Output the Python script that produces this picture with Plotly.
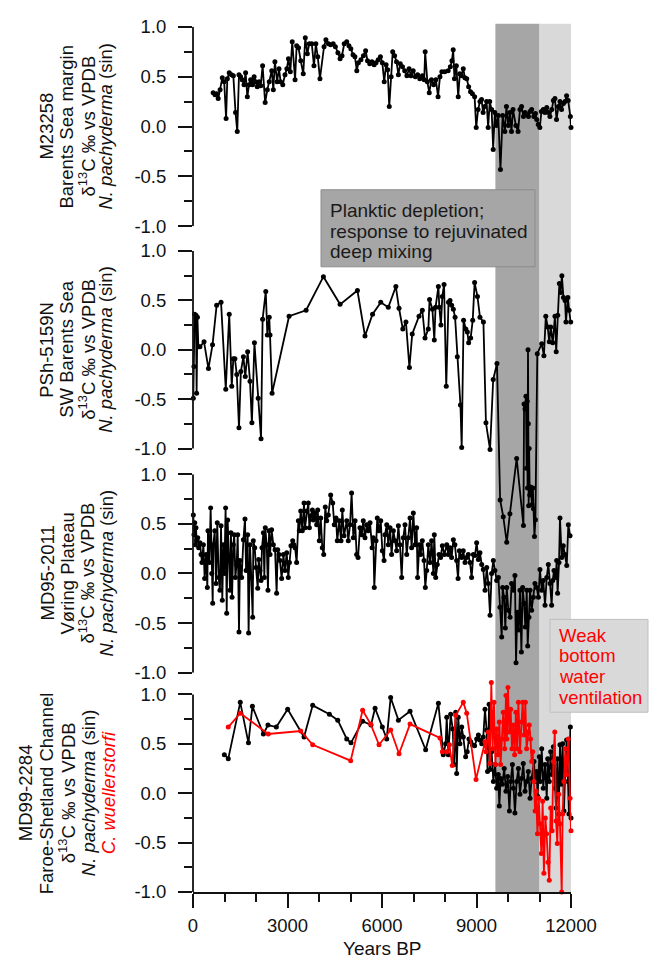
import plotly.graph_objects as go

# ---------------- data ----------------
m23258_year = [640, 700, 750, 800, 860, 930, 990, 1050, 1090, 1150,
               1220, 1280, 1350, 1405, 1460, 1510, 1560, 1620, 1670, 1725,
               1780, 1830, 1890, 1940, 1990, 2040, 2100, 2150, 2210, 2290,
               2360, 2420, 2500, 2550, 2600, 2670, 2730, 2780, 2850, 2920,
               2980, 3030, 3090, 3150, 3240, 3290, 3350, 3420, 3500, 3565,
               3630, 3690, 3770, 3840, 3900, 3960, 4030, 4160, 4220, 4300,
               4370, 4450, 4520, 4600, 4670, 4730, 4800, 4880, 4950, 5010,
               5080, 5140, 5200, 5250, 5330, 5410, 5480, 5540, 5610, 5680,
               5750, 5810, 5880, 5950, 6010, 6070, 6130, 6180, 6230, 6290,
               6340, 6400, 6460, 6520, 6580, 6650, 6720, 6790, 6860, 6920,
               6990, 7060, 7130, 7200, 7280, 7340, 7370, 7440, 7500, 7570,
               7640, 7710, 7780, 7840, 7900, 7990, 8100, 8170, 8220, 8260,
               8300, 8360, 8420, 8470, 8520, 8580, 8630, 8690, 8750, 8810,
               8870, 8940, 8990, 9050, 9110, 9160, 9210, 9260, 9320, 9370,
               9420, 9480, 9530, 9580, 9630, 9690, 9760, 9830, 9900, 9950,
               10010, 10060, 10110, 10160, 10250, 10320, 10380, 10430, 10490, 10540,
               10600, 10650, 10700, 10750, 10820, 10870, 10910, 10960, 11010, 11060,
               11120, 11170, 11230, 11280, 11330, 11390, 11440, 11490, 11540, 11600,
               11650, 11700, 11760, 11810, 11860, 11910, 11980, 12000]
m23258_d13c = [0.34, 0.32, 0.33, 0.28, 0.37, 0.49, 0.45, 0.08, 0.48, 0.54,
               0.52, 0.51, 0.14, -0.05, 0.52, 0.50, 0.47, 0.42, 0.54, 0.30,
               0.42, 0.47, 0.42, 0.50, 0.45, 0.40, 0.45, 0.41, 0.61, 0.24,
               0.37, 0.45, 0.56, 0.37, 0.65, 0.45, 0.58, 0.45, 0.42, 0.52,
               0.58, 0.68, 0.55, 0.85, 0.47, 0.81, 0.79, 0.66, 0.53, 0.89,
               0.73, 0.83, 0.83, 0.61, 0.83, 0.70, 0.48, 0.80, 0.87, 0.83,
               0.82, 0.83, 0.80, 0.74, 0.68, 0.71, 0.83, 0.85, 0.81, 0.78,
               0.72, 0.70, 0.56, 0.64, 0.67, 0.71, 0.76, 0.66, 0.63, 0.65,
               0.62, 0.64, 0.67, 0.70, 0.64, 0.45, 0.62, 0.57, 0.20, 0.50,
               0.75, 0.71, 0.65, 0.52, 0.63, 0.60, 0.56, 0.51, 0.58, 0.51,
               0.56, 0.50, 0.52, 0.48, 0.51, 0.47, 0.75, 0.45, 0.34, 0.47,
               0.42, 0.47, 0.30, 0.50, 0.55, 0.55, 0.56, 0.60, 0.66, 0.77,
               0.48, 0.61, 0.30, 0.53, 0.51, 0.58, 0.49, 0.48, 0.40, 0.35,
               0.33, 0.30, -0.01, 0.17, 0.25, 0.27, 0.14, 0.20, 0.25, -0.01,
               0.25, 0.17, -0.23, 0.14, 0.01, 0.11, -0.43, 0.11, -0.05, 0.20,
               0.01, 0.14, -0.05, 0.17, 0.01, -0.05, 0.17, 0.20, 0.10, 0.14,
               0.12, 0.10, 0.15, 0.17, 0.10, 0.13, 0.07, 0.02, -0.01, 0.15,
               0.17, 0.14, 0.19, 0.14, 0.10, 0.17, 0.26, 0.28, 0.07, 0.20,
               0.25, 0.17, 0.23, 0.25, 0.31, 0.26, 0.10, -0.01]

psh_year = [10, 30, 50, 75, 95, 115, 140, 170, 220, 350,
            490, 620, 750, 890, 1040, 1150, 1230, 1280, 1330, 1390,
            1460, 1520, 1600, 1660, 1735, 1810, 1870, 1950, 2070, 2160,
            2210, 2310, 2360, 2420, 2445, 2510, 3050, 3590, 4140, 4670,
            5220, 5460, 5700, 5960, 6200, 6440, 6540, 6660, 6760, 6870,
            6960, 7175, 7280, 7365, 7470, 7510, 7600, 7660, 7700, 7790,
            7820, 7870, 7915, 7970, 8040, 8110, 8160, 8210, 8265, 8320,
            8390, 8490, 8530, 8590, 8660, 8710, 8750, 8815, 8880, 8940,
            9030, 9110, 9220, 9300, 9430, 9530, 9650, 9750, 9850, 9960,
            10060, 10275, 10490, 10510, 10540, 10570, 10590, 10610, 10620, 10635,
            10645, 10656, 10670, 10690, 10720, 10760, 10790, 10810, 10840, 10870,
            10930, 11070, 11140, 11200, 11260, 11310, 11355, 11420, 11490, 11530,
            11580, 11630, 11670, 11710, 11760, 11810, 11840, 11900, 11940, 11990]
psh_d13c = [-0.49, -0.17, 0.36, 0.20, 0.35, -0.44, 0.33, 0.03, 0.03, 0.08,
            -0.19, 0.05, 0.45, 0.48, -0.40, 0.36, -0.37, -0.09, -0.09, -0.25,
            -0.79, -0.22, -0.07, -0.27, -0.02, -0.32, -0.74, 0.07, -0.49, -0.90,
            0.31, 0.59, 0.15, 0.33, 0.15, -0.44, 0.34, 0.40, 0.74, 0.46,
            0.60, 0.14, 0.36, 0.48, 0.43, 0.64, 0.42, 0.21, 0.28, -0.18,
            0.16, 0.34, 0.40, 0.12, 0.21, 0.51, 0.41, 0.10, 0.43, 0.64,
            0.43, 0.25, 0.54, 0.66, -0.37, 0.48, 0.50, 0.45, 0.41, 0.33,
            -0.07, -0.56, -0.99, 0.30, 0.21, 0.18, 0.07, 0.12, 0.30, 0.68,
            0.54, 0.33, 0.28, -0.74, -1.01, -0.30, -0.14, -1.52, -1.69, -1.95,
            -1.66, -1.10, -1.78, -0.55, -0.60, -0.47, -1.20, -0.52, -1.40, 0.00,
            -0.75, -1.58, -1.00, -1.47, -1.39, -1.57, -1.40, -1.61, -1.89, -1.72,
            -0.04, 0.06, -0.06, 0.34, 0.23, 0.08, 0.23, 0.07, 0.34, -0.02,
            0.35, 0.67, 0.58, 0.75, 0.53, 0.50, 0.28, 0.53, 0.40, 0.28]

md95_year = [10, 30, 55, 75, 95, 115, 150, 180, 220, 255,
             285, 330, 370, 415, 455, 475, 520, 560, 595, 625,
             645, 690, 730, 770, 815, 855, 890, 930, 965, 995,
             1035, 1070, 1100, 1145, 1175, 1205, 1240, 1280, 1310, 1345,
             1385, 1420, 1460, 1490, 1545, 1600, 1650, 1685, 1735, 1765,
             1810, 1850, 1895, 1915, 1960, 2000, 2055, 2085, 2125, 2160,
             2190, 2235, 2265, 2295, 2340, 2380, 2415, 2445, 2495, 2550,
             2605, 2655, 2690, 2730, 2760, 2815, 2870, 2920, 2975, 3025,
             3060, 3110, 3165, 3205, 3240, 3290, 3345, 3375, 3420, 3470,
             3525, 3555, 3610, 3660, 3695, 3735, 3790, 3820, 3875, 3925,
             3960, 4010, 4055, 4105, 4150, 4200, 4245, 4295, 4370, 4435,
             4485, 4540, 4580, 4645, 4700, 4740, 4795, 4880, 4930, 4985,
             5035, 5090, 5145, 5195, 5240, 5300, 5355, 5405, 5460, 5515,
             5565, 5620, 5685, 5725, 5755, 5810, 5850, 5905, 5960, 6010,
             6065, 6095, 6150, 6200, 6255, 6305, 6360, 6415, 6465, 6520,
             6570, 6625, 6675, 6730, 6785, 6835, 6890, 6940, 6995, 7050,
             7100, 7130, 7185, 7225, 7280, 7335, 7375, 7420, 7470, 7525,
             7575, 7630, 7660, 7705, 7755, 7810, 7860, 7915, 7980, 8055,
             8105, 8160, 8210, 8265, 8315, 8370, 8415, 8455, 8530, 8580,
             8635, 8690, 8740, 8795, 8845, 8900, 8950, 9005, 9060, 9110,
             9165, 9215, 9270, 9325, 9375, 9430, 9480, 9535, 9585, 9640,
             9695, 9745, 9800, 9830, 9875, 9915, 9960, 10010, 10065, 10115,
             10170, 10220, 10255, 10295, 10340, 10380, 10425, 10465, 10510, 10550,
             10595, 10625, 10665, 10700, 10750, 10805, 10855, 10910, 10965, 11015,
             11070, 11120, 11175, 11230, 11280, 11335, 11385, 11420, 11460, 11515,
             11545, 11575, 11620, 11650, 11705, 11755, 11810, 11865, 11915, 11970]
md95_d13c = [0.59, 0.39, 0.51, 0.29, 0.46, 0.33, 0.36, 0.26, 0.31, 0.19,
             0.11, 0.29, -0.05, 0.19, -0.14, 0.43, 0.11, 0.66, 0.00, -0.30,
             0.29, 0.43, -0.10, 0.51, -0.04, -0.17, 0.48, -0.27, 0.29, 0.00,
             0.66, -0.40, 0.54, 0.13, -0.17, 0.41, -0.24, 0.29, 0.39, -0.04,
             0.09, 0.39, -0.59, 0.13, -0.04, 0.34, 0.55, 0.03, 0.39, -0.60,
             0.29, -0.04, -0.44, 0.33, 0.26, 0.06, -0.15, 0.14, 0.03, -0.07,
             0.26, 0.41, -0.04, 0.46, 0.29, -0.17, 0.43, 0.19, 0.44, 0.29,
             0.24, -0.20, 0.24, 0.19, 0.13, -0.05, 0.19, 0.03, 0.21, -0.04,
             0.11, 0.28, 0.33, 0.29, 0.26, 0.11, 0.53, 0.43, 0.63, 0.43,
             0.71, 0.46, 0.63, 0.71, 0.46, 0.58, 0.64, 0.54, 0.61, 0.49,
             0.64, 0.33, 0.56, 0.26, 0.19, 0.67, 0.53, 0.59, 0.79, 0.71,
             0.49, 0.56, 0.33, 0.53, 0.33, 0.64, 0.38, 0.53, 0.33, 0.49,
             0.81, 0.36, 0.53, 0.19, 0.16, 0.46, 0.39, 0.53, 0.36, 0.49,
             0.43, 0.51, 0.26, 0.36, -0.14, 0.33, 0.56, 0.43, 0.53, 0.23,
             0.13, 0.39, 0.49, 0.29, 0.46, 0.19, 0.43, 0.33, 0.23, 0.48,
             0.29, -0.04, 0.36, 0.49, 0.19, 0.36, 0.56, 0.26, 0.61, 0.29,
             0.46, -0.04, 0.29, 0.19, 0.33, 0.13, -0.14, 0.03, 0.29, 0.11,
             0.33, 0.00, 0.39, -0.04, 0.09, 0.19, 0.16, 0.28, 0.19, 0.29,
             0.19, 0.26, 0.16, 0.34, 0.29, 0.13, -0.05, 0.23, 0.16, 0.23,
             0.11, 0.16, 0.19, 0.11, -0.04, 0.19, 0.18, 0.31, 0.14, 0.21,
             0.09, 0.04, -0.17, 0.06, -0.10, -0.42, 0.00, 0.13, 0.03, -0.07,
             -0.04, -0.34, -0.64, -0.14, -0.24, -0.55, -0.14, -0.37, -0.44, -0.10,
             -0.17, -0.02, -0.90, -0.39, -0.57, -0.17, -0.79, -0.14, -0.30, -0.54,
             -0.17, -0.73, -0.44, -0.17, -0.37, -0.24, -0.10, -0.14, -0.24, 0.04,
             -0.17, -0.07, -0.32, -0.04, 0.09, -0.10, -0.32, -0.07, 0.03, -0.04,
             0.13, -0.20, 0.11, 0.56, 0.16, 0.28, 0.19, 0.08, 0.49, 0.38]

md99_np_year = [995, 1120, 1500, 1760, 1885, 2235, 2380, 2645, 3005, 3525,
                3800, 4330, 4595, 4880, 5015, 5385, 5650, 5780, 6010, 6150,
                6275, 6520, 6890, 7385, 7790, 7945, 8020, 8055, 8105, 8180,
                8245, 8285, 8340, 8370, 8420, 8475, 8530, 8580, 8655, 8705,
                8760, 8815, 8870, 8940, 9005, 9060, 9110, 9165, 9215, 9270,
                9320, 9350, 9375, 9400, 9430, 9480, 9535, 9590, 9640, 9690,
                9725, 9765, 9820, 9880, 9935, 9990, 10045, 10085, 10140, 10170,
                10220, 10275, 10330, 10380, 10430, 10485, 10540, 10590, 10645, 10700,
                10750, 10825, 10855, 10910, 10940, 10995, 11025, 11070, 11120, 11175,
                11230, 11260, 11310, 11355, 11400, 11440, 11495, 11525, 11565, 11610,
                11650, 11690, 11735, 11775, 11820, 11860, 11905, 11935, 11980, 12000]
md99_np_d13c = [0.39, 0.35, 0.92, 0.51, 0.88, 0.60, 0.69, 0.67, 0.85, 0.57,
                0.89, 0.80, 0.74, 0.55, 0.51, 0.73, 0.69, 0.86, 0.67, 0.55,
                0.97, 0.74, 0.83, 0.44, 0.91, 0.39, 0.50, 0.77, 0.39, 0.80,
                0.65, 0.29, 0.82, 0.20, 0.77, 0.50, 0.67, 0.57, 0.37, 0.42,
                0.55, 0.52, 0.49, 0.48, 0.55, 0.59, 0.54, 0.50, 0.57, 0.85,
                0.64, 0.22, 0.54, 0.90, 0.24, 0.42, 0.12, 0.29, 0.05, 0.19,
                -0.13, 0.15, 0.09, 0.25, 0.02, 0.17, -0.18, 0.12, 0.29, 0.05,
                -0.20, 0.12, 0.25, -0.01, 0.15, 0.30, 0.02, 0.12, 0.22, -0.05,
                0.15, 0.32, 0.12, 0.22, -0.03, 0.37, 0.12, 0.45, 0.05, 0.29,
                -0.05, 0.35, 0.12, 0.42, 0.19, 0.47, 0.05, -0.15, 0.35, -0.21,
                0.49, 0.09, 0.50, -0.18, 0.25, 0.54, 0.12, -0.21, 0.67, -0.25]

md99_cw_year = [1120, 1500, 2390, 3420, 3800, 5005, 5385, 5640, 5905, 6275,
                6540, 6890, 7840, 7915, 8055, 8140, 8230, 8340, 8580, 8690,
                8985, 9270, 9300, 9375, 9430, 9470, 9515, 9555, 9600, 9640,
                9685, 9725, 9765, 9810, 9850, 9895, 9935, 9965, 9999, 10040,
                10085, 10125, 10170, 10210, 10250, 10290, 10330, 10380, 10425, 10465,
                10510, 10550, 10590, 10635, 10675, 10715, 10750, 10785, 10825, 10860,
                10890, 10935, 10975, 11015, 11060, 11100, 11140, 11185, 11225, 11270,
                11310, 11355, 11400, 11440, 11485, 11525, 11565, 11610, 11650, 11705,
                11735, 11775, 11820, 11860, 11915, 11970, 12000]
md99_cw_d13c = [0.67, 0.81, 0.60, 0.63, 0.49, 0.33, 0.84, 0.70, 0.49, 0.64,
                0.40, 0.70, 0.56, 0.42, 0.42, 0.49, 0.28, 0.79, 0.92, 0.81,
                0.14, 0.52, 0.42, 0.62, 0.30, 1.12, 0.45, 0.92, 0.29, 0.65,
                0.39, 0.72, 0.29, 0.55, 0.82, 0.45, 0.99, 0.55, 1.07, 0.62,
                0.85, 0.45, 0.69, 0.39, 0.82, 0.45, 0.92, 0.42, 0.72, 0.92,
                0.59, 0.92, 0.45, 0.62, 0.69, 0.55, 0.32, 0.42, 0.12, -0.18,
                0.02, -0.41, -0.05, -0.31, -0.61, -0.08, -0.81, -0.25, -0.41, -0.70,
                -0.88, -0.15, -0.38, 0.32, 0.62, -0.28, -0.51, -0.01, -0.31, -1.00,
                -0.21, 0.12, 0.45, 0.19, 0.55, -0.05, -0.38]

for a, b in [(m23258_year, m23258_d13c), (psh_year, psh_d13c), (md95_year, md95_d13c),
             (md99_np_year, md99_np_d13c), (md99_cw_year, md99_cw_d13c)]:
    assert len(a) == len(b), (len(a), len(b))

band_dark = [9600, 11000]
band_light = [11000, 12000]
x_ticks = [0, 3000, 6000, 9000, 12000]
x_minor = [1000, 2000, 4000, 5000, 7000, 8000, 10000, 11000]
y_ticks = [-1, -0.5, 0, 0.5, 1]
y_ticktext = ["-1.0", "-0.5", "0.0", "0.5", "1.0"]
y_minor = [-0.75, -0.25, 0.25, 0.75]

panel_titles = [
    ["M23258", "Barents Sea margin", "δ<sup>13</sup>C ‰ vs VPDB", "<i>N. pachyderma</i> (sin)"],
    ["PSh-5159N", "SW Barents Sea", "δ<sup>13</sup>C ‰ vs VPDB", "<i>N. pachyderma</i> (sin)"],
    ["MD95-2011", "Vøring Plateau", "δ<sup>13</sup>C ‰ vs VPDB", "<i>N. pachyderma</i> (sin)"],
    ["MD99-2284", "Faroe-Shetland Channel", "δ<sup>13</sup>C ‰ vs VPDB", "<i>N. pachyderma</i> (sin)",
     "<i>C. wuellerstorfi</i>"],
]
note1 = ["Planktic depletion;", "response to rejuvinated", "deep mixing"]
note2 = ["Weak", "bottom", "water", "ventilation"]
x_title = "Years BP"

# ---------------- layout geometry (pixels) ----------------
W, H = 650, 960
L, R, T, B = 193, 79, 0, 68
PW = W - L - R
PH = H - T - B
FONT = "Liberation Sans, Arial, sans-serif"
INK = "#111111"
RED = "#ff0000"
LW = 1.8


def pf(py):
    return (PH - (py - T)) / PH


def px(x):
    return (x - L) / PW


# (axis id, pixel of +1.0, pixel of -1.0, range)
panels = [
    ("y", 16, 218, [-1.0, 1.0]),
    ("y2", 243, 443, [-2.1, 1.0]),
    ("y3", 469, 670, [-1.0, 1.0]),
    ("y4", 692, 892, [-1.0, 1.2]),
]

fig = go.Figure()

series = [
    (m23258_year, m23258_d13c, "y", "#000000"),
    (psh_year, psh_d13c, "y2", "#000000"),
    (md95_year, md95_d13c, "y3", "#000000"),
    (md99_np_year, md99_np_d13c, "y4", "#000000"),
    (md99_cw_year, md99_cw_d13c, "y4", RED),
]
for xs, ys, yax, col in series:
    fig.add_trace(go.Scatter(
        x=xs, y=ys, xaxis="x", yaxis=yax, mode="lines+markers",
        line=dict(color=col, width=1.8),
        marker=dict(color=col, size=5),
        cliponaxis=False, showlegend=False, hoverinfo="skip"))

layout = dict(
    width=W, height=H,
    margin=dict(l=L, r=R, t=T, b=B, pad=0),
    paper_bgcolor="white", plot_bgcolor="rgba(0,0,0,0)",
    font=dict(family=FONT, size=18, color=INK),
    showlegend=False,
)

layout["xaxis"] = dict(
    range=[0, 12000], anchor="y4", domain=[0, 1],
    showline=True, linecolor=INK, linewidth=LW,
    showgrid=False, zeroline=False,
    tickmode="array", tickvals=x_ticks, ticktext=[str(v) for v in x_ticks],
    ticks="outside", ticklen=14, tickwidth=LW, tickcolor=INK,
    ticklabelstandoff=2,
    tickfont=dict(family=FONT, size=18.5, color=INK),
    minor=dict(tickmode="array", tickvals=x_minor, ticks="outside",
               ticklen=8, tickwidth=LW, tickcolor=INK, showgrid=False),
)

shapes = []
annotations = []

# x-axis title
annotations.append(dict(text=x_title, xref="paper", yref="paper", x=0.5, y=pf(949),
                        xanchor="center", yanchor="middle", showarrow=False, borderpad=0,
                        font=dict(family=FONT, size=19, color=INK)))

# shaded time bands (behind everything)
y_band_top = pf(13)
shapes.append(dict(type="rect", xref="x", yref="paper", x0=band_dark[0], x1=band_dark[1],
                   y0=0, y1=y_band_top, fillcolor="#a6a6a6", line=dict(width=0), layer="below"))
shapes.append(dict(type="rect", xref="x", yref="paper", x0=band_light[0], x1=band_light[1],
                   y0=0, y1=y_band_top, fillcolor="#d9d9d9", line=dict(width=0), layer="below"))

title_x = [[47, 67, 87, 106]] * 3 + [[25, 46, 67, 88, 108]]

for i, (yid, p_top, p_bot, rng) in enumerate(panels):
    ppu = (p_bot - p_top) / 2.0
    d_top = p_top - (rng[1] - 1.0) * ppu
    d_bot = p_bot + (-1.0 - rng[0]) * ppu
    key = "yaxis" if yid == "y" else "yaxis" + yid[1:]
    layout[key] = dict(
        domain=[pf(d_bot), pf(d_top)], range=rng, anchor="x",
        showline=False, showgrid=False, zeroline=False,
        tickmode="array", tickvals=y_ticks, ticktext=y_ticktext,
        ticks="outside", ticklen=14, tickwidth=LW, tickcolor=INK,
        ticklabelstandoff=8,
        tickfont=dict(family=FONT, size=18.5, color=INK),
        minor=dict(tickmode="array", tickvals=y_minor, ticks="outside",
                   ticklen=8, tickwidth=LW, tickcolor=INK, showgrid=False),
    )
    # left spine from -1 to 1
    shapes.append(dict(type="line", xref="paper", yref=yid, x0=0, x1=0, y0=-1, y1=1,
                       line=dict(color=INK, width=LW), layer="above"))
    # stacked axis title lines
    for j, txt in enumerate(panel_titles[i]):
        col = RED if "wuellerstorfi" in txt else INK
        annotations.append(dict(
            text=txt, xref="paper", yref=yid, x=px(title_x[i][j]), y=0,
            xanchor="center", yanchor="middle", textangle=-90, showarrow=False,
            font=dict(family=FONT, size=18.5, color=col)))

# note box 1
shapes.append(dict(type="rect", xref="paper", yref="paper",
                   x0=px(321), x1=px(535), y0=pf(259), y1=pf(181),
                   fillcolor="#a6a6a6", line=dict(color="#8c8c8c", width=1), layer="above"))
for j, (txt, py) in enumerate(zip(note1, [202, 223, 243])):
    annotations.append(dict(text=txt, xref="paper", yref="paper", x=px(328), y=pf(py),
                            xanchor="left", yanchor="middle", showarrow=False,
                            font=dict(family=FONT, size=19, color="#1a1a1a")))

# note box 2
shapes.append(dict(type="rect", xref="paper", yref="paper",
                   x0=px(550), x1=px(648), y0=pf(710), y1=pf(616),
                   fillcolor="#d9d9d9", line=dict(color="#bfbfbf", width=1), layer="above"))
for j, (txt, py) in enumerate(zip(note2, [632, 653, 674, 695])):
    annotations.append(dict(text=txt, xref="paper", yref="paper", x=px(557), y=pf(py),
                            xanchor="left", yanchor="middle", showarrow=False,
                            font=dict(family=FONT, size=18.5, color=RED)))

layout["shapes"] = shapes
layout["annotations"] = annotations
fig.update_layout(**layout)

fig.write_html("out.html")
